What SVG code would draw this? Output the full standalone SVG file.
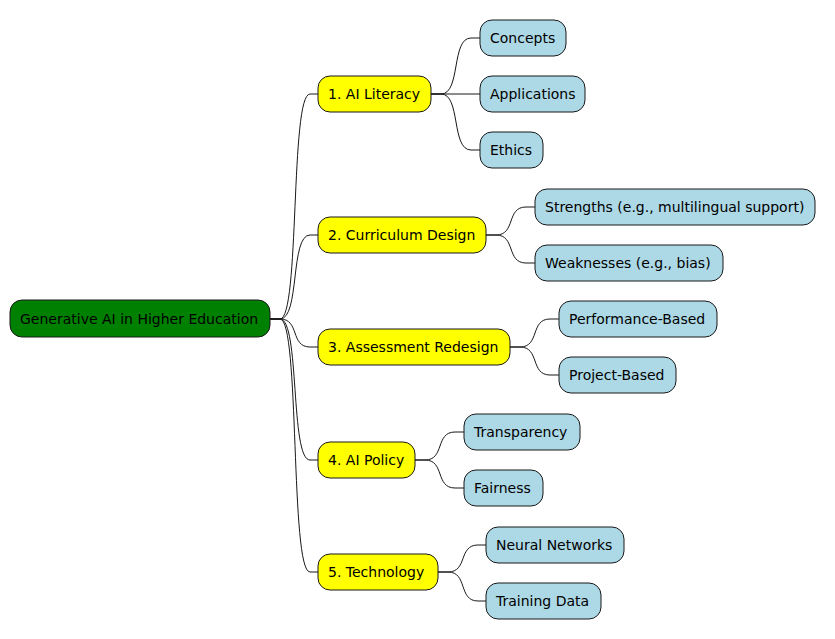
<svg xmlns="http://www.w3.org/2000/svg" width="835" height="639" viewBox="0 0 835 639">
<style>
.r,.y,.b{stroke:#181818;stroke-width:1}
.r{fill:#008000}.y{fill:#ffff00}.b{fill:#add8e6}
text{font-family:"DejaVu Sans",sans-serif;font-size:14px;fill:#000;dominant-baseline:central}
#c path{fill:none;stroke:#181818;stroke-width:1}
</style>
<rect width="835" height="639" fill="#fff"/>
<g id="c">
<path d="M270,319 h10 C300,319 290,94 310,94 H318"/>
<path d="M270,319 h10 C300,319 290,235 310,235 H318"/>
<path d="M270,319 h10 C300,319 290,347 310,347 H318"/>
<path d="M270,319 h10 C300,319 290,460 310,460 H318"/>
<path d="M270,319 h10 C300,319 290,572 310,572 H318"/>
<path d="M431,94 h10 C461,94 451,38 471,38 H480"/>
<path d="M431,94 H480"/>
<path d="M431,94 h10 C461,94 451,150 471,150 H480"/>
<path d="M486,235 h10 C516,235 506,207 526,207 H535"/>
<path d="M486,235 h10 C516,235 506,263 526,263 H535"/>
<path d="M510,347 h10 C540,347 530,319 550,319 H559"/>
<path d="M510,347 h10 C540,347 530,375 550,375 H559"/>
<path d="M415,460 h10 C445,460 435,432 455,432 H464"/>
<path d="M415,460 h10 C445,460 435,488 455,488 H464"/>
<path d="M438,572 h10 C468,572 458,545 478,545 H486"/>
<path d="M438,572 h10 C468,572 458,601 478,601 H486"/>
</g>
<g id="root"><rect class="r" x="10" y="300" width="260" height="37" rx="12"/><text x="20" y="319">Generative AI in Higher Education</text></g>
<g id="n1"><rect class="y" x="318" y="76" width="113" height="36" rx="12"/><text x="328" y="94">1. AI Literacy</text></g>
<g id="n2"><rect class="y" x="318" y="217" width="168" height="36" rx="12"/><text x="328" y="235">2. Curriculum Design</text></g>
<g id="n3"><rect class="y" x="318" y="329" width="192" height="36" rx="12"/><text x="328" y="347">3. Assessment Redesign</text></g>
<g id="n4"><rect class="y" x="318" y="442" width="97" height="36" rx="12"/><text x="328" y="460">4. AI Policy</text></g>
<g id="n5"><rect class="y" x="318" y="554" width="120" height="36" rx="12"/><text x="328" y="572">5. Technology</text></g>
<g id="l1"><rect class="b" x="480" y="20" width="86" height="36" rx="12"/><text x="490" y="38">Concepts</text></g>
<g id="l2"><rect class="b" x="480" y="76" width="105" height="36" rx="12"/><text x="490" y="94">Applications</text></g>
<g id="l3"><rect class="b" x="480" y="132" width="63" height="36" rx="12"/><text x="490" y="150">Ethics</text></g>
<g id="l4"><rect class="b" x="535" y="189" width="280" height="36" rx="12"/><text x="545" y="207">Strengths (e.g., multilingual support)</text></g>
<g id="l5"><rect class="b" x="535" y="245" width="188" height="36" rx="12"/><text x="545" y="263">Weaknesses (e.g., bias)</text></g>
<g id="l6"><rect class="b" x="559" y="301" width="158" height="36" rx="12"/><text x="569" y="319">Performance-Based</text></g>
<g id="l7"><rect class="b" x="559" y="357" width="117" height="36" rx="12"/><text x="569" y="375">Project-Based</text></g>
<g id="l8"><rect class="b" x="464" y="414" width="116" height="36" rx="12"/><text x="474" y="432">Transparency</text></g>
<g id="l9"><rect class="b" x="464" y="470" width="79" height="36" rx="12"/><text x="474" y="488">Fairness</text></g>
<g id="l10"><rect class="b" x="486" y="527" width="138" height="36" rx="12"/><text x="496" y="545">Neural Networks</text></g>
<g id="l11"><rect class="b" x="486" y="583" width="115" height="36" rx="12"/><text x="496" y="601">Training Data</text></g>
</svg>
